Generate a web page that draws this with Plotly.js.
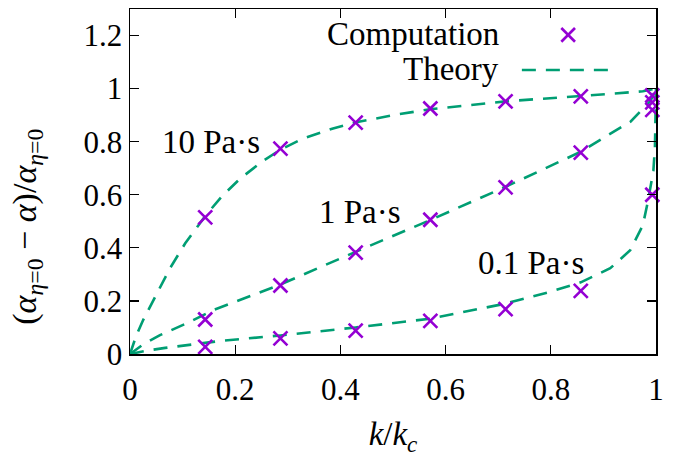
<!DOCTYPE html>
<html>
<head>
<meta charset="utf-8">
<script src="https://cdn.plot.ly/plotly-3.0.1.min.js"></script>
<style>html,body{margin:0;padding:0;background:#fff;}#plot{width:676px;height:457px;}</style>
</head>
<body>
<div id="plot"></div>
<script>
// Computation points (k/kc, ratio)
const kComp = [0.143, 0.286, 0.429, 0.571, 0.714, 0.857, 0.993];
const comp10 = [0.515, 0.774, 0.872, 0.925, 0.952, 0.971, 0.974];
const comp1 = [0.130, 0.258, 0.382, 0.506, 0.628, 0.759, 0.920];
const comp01 = [0.027, 0.059, 0.088, 0.125, 0.169, 0.238, 0.600];
const kExtra = [0.993];
const compExtra = [0.948];

// Theory curves
const th10x = [0, 0.012, 0.025, 0.051, 0.076, 0.105, 0.143, 0.175, 0.209, 0.251, 0.286, 0.329, 0.386, 0.43, 0.5, 0.57, 0.714, 0.857, 0.975, 1.0];
const th10y = [0, 0.07, 0.128, 0.229, 0.323, 0.417, 0.52, 0.595, 0.66, 0.725, 0.77, 0.812, 0.85, 0.873, 0.9, 0.922, 0.952, 0.972, 0.99, 1.0];
const th1x = [0, 0.025, 0.057, 0.108, 0.158, 0.286, 0.429, 0.571, 0.714, 0.857, 0.907, 0.952, 0.99, 1.0];
const th1y = [0, 0.036, 0.071, 0.116, 0.165, 0.262, 0.385, 0.505, 0.63, 0.762, 0.823, 0.876, 0.955, 1.0];
const th01x = [0, 0.03, 0.067, 0.12, 0.171, 0.286, 0.429, 0.571, 0.714, 0.8, 0.857, 0.913, 0.951, 0.975, 0.985, 0.995, 0.998, 1.0];
const th01y = [0, 0.012, 0.023, 0.037, 0.049, 0.07, 0.1, 0.133, 0.19, 0.235, 0.27, 0.323, 0.391, 0.485, 0.579, 0.69, 0.78, 1.0];

const xTicks = [0, 0.2, 0.4, 0.6, 0.8, 1];
const yTicks = [0, 0.2, 0.4, 0.6, 0.8, 1, 1.2];

const seriesLabels = ["10 Pa·s", "1 Pa·s", "0.1 Pa·s"];
const legendLabels = ["Computation", "Theory"];

const green = "#009e73";
const violet = "#9400d3";
const FONT = "Liberation Serif, serif";

const lineStyle = {color: green, width: 2.6, dash: "14px,10px"};
const markStyle = {symbol: "x-thin-open", size: 14, color: violet, line: {color: violet, width: 2.6}};

const traces = [
  {x: th10x, y: th10y, mode: "lines", line: lineStyle, showlegend: false, hoverinfo: "skip"},
  {x: th1x, y: th1y, mode: "lines", line: lineStyle, showlegend: false, hoverinfo: "skip"},
  {x: th01x, y: th01y, mode: "lines", line: lineStyle, showlegend: false, hoverinfo: "skip"},
  {x: kComp, y: comp10, mode: "markers", marker: markStyle, showlegend: false, cliponaxis: false},
  {x: kComp, y: comp1, mode: "markers", marker: markStyle, showlegend: false, cliponaxis: false},
  {x: kComp, y: comp01, mode: "markers", marker: markStyle, showlegend: false, cliponaxis: false},
  {x: kExtra, y: compExtra, mode: "markers", marker: markStyle, showlegend: false, cliponaxis: false}
];

const axisCommon = {
  showline: true, linecolor: "#000", linewidth: 1.5, mirror: "ticks",
  ticks: "inside", ticklen: 9, tickwidth: 1.2, tickcolor: "#000",
  showgrid: false, zeroline: false, fixedrange: true,
  tickfont: {family: FONT, size: 31, color: "#000"}
};

const layout = {
  width: 676, height: 457,
  margin: {l: 130, r: 20, t: 9, b: 103},
  paper_bgcolor: "#fff", plot_bgcolor: "#fff",
  font: {family: FONT, size: 31, color: "#000"},
  xaxis: Object.assign({}, axisCommon, {
    range: [0, 1], tickvals: xTicks, ticktext: xTicks.map(String),
    ticklabelstandoff: 7,
    title: {text: "<i>k</i>/<i>k</i><sub><i>c</i></sub>", font: {family: FONT, size: 33}, standoff: 16}
  }),
  yaxis: Object.assign({}, axisCommon, {
    range: [0, 1.3], tickvals: yTicks, ticktext: yTicks.map(String)
  }),
  showlegend: false,
  annotations: [
    {xref: "paper", yref: "paper", x: -0.195, y: 0.37, text: "(<i>α</i><sub><i>η</i>=0</sub> − <i>α</i>)/<i>α</i><sub><i>η</i>=0</sub>",
     textangle: -90, showarrow: false, xanchor: "center", yanchor: "middle", font: {family: FONT, size: 34}},
    {xref: "x", yref: "y", x: 0.251, y: 0.80, text: seriesLabels[0], showarrow: false, xanchor: "right", yanchor: "middle", font: {family: FONT, size: 33}},
    {xref: "x", yref: "y", x: 0.437, y: 0.534, text: seriesLabels[1], showarrow: false, xanchor: "center", yanchor: "middle", font: {family: FONT, size: 33}},
    {xref: "x", yref: "y", x: 0.762, y: 0.342, text: seriesLabels[2], showarrow: false, xanchor: "center", yanchor: "middle", font: {family: FONT, size: 33}},
    {xref: "paper", yref: "paper", x: 0.705, y: 0.928, text: legendLabels[0], showarrow: false, xanchor: "right", yanchor: "middle", font: {family: FONT, size: 33}},
    {xref: "paper", yref: "paper", x: 0.705, y: 0.826, text: legendLabels[1], showarrow: false, xanchor: "right", yanchor: "middle", font: {family: FONT, size: 33}}
  ],
  shapes: [
    {type: "line", xref: "paper", yref: "paper", x0: 0.745, x1: 0.922, y0: 0.823, y1: 0.823, line: {color: green, width: 2.6, dash: "14px,10px"}},
    {type: "line", xref: "paper", yref: "paper", x0: 0.820, x1: 0.846, y0: 0.905, y1: 0.945, line: {color: violet, width: 2.6}},
    {type: "line", xref: "paper", yref: "paper", x0: 0.820, x1: 0.846, y0: 0.945, y1: 0.905, line: {color: violet, width: 2.6}}
  ]
};

Plotly.newPlot("plot", traces, layout, {staticPlot: true, displayModeBar: false});
</script>
</body>
</html>
